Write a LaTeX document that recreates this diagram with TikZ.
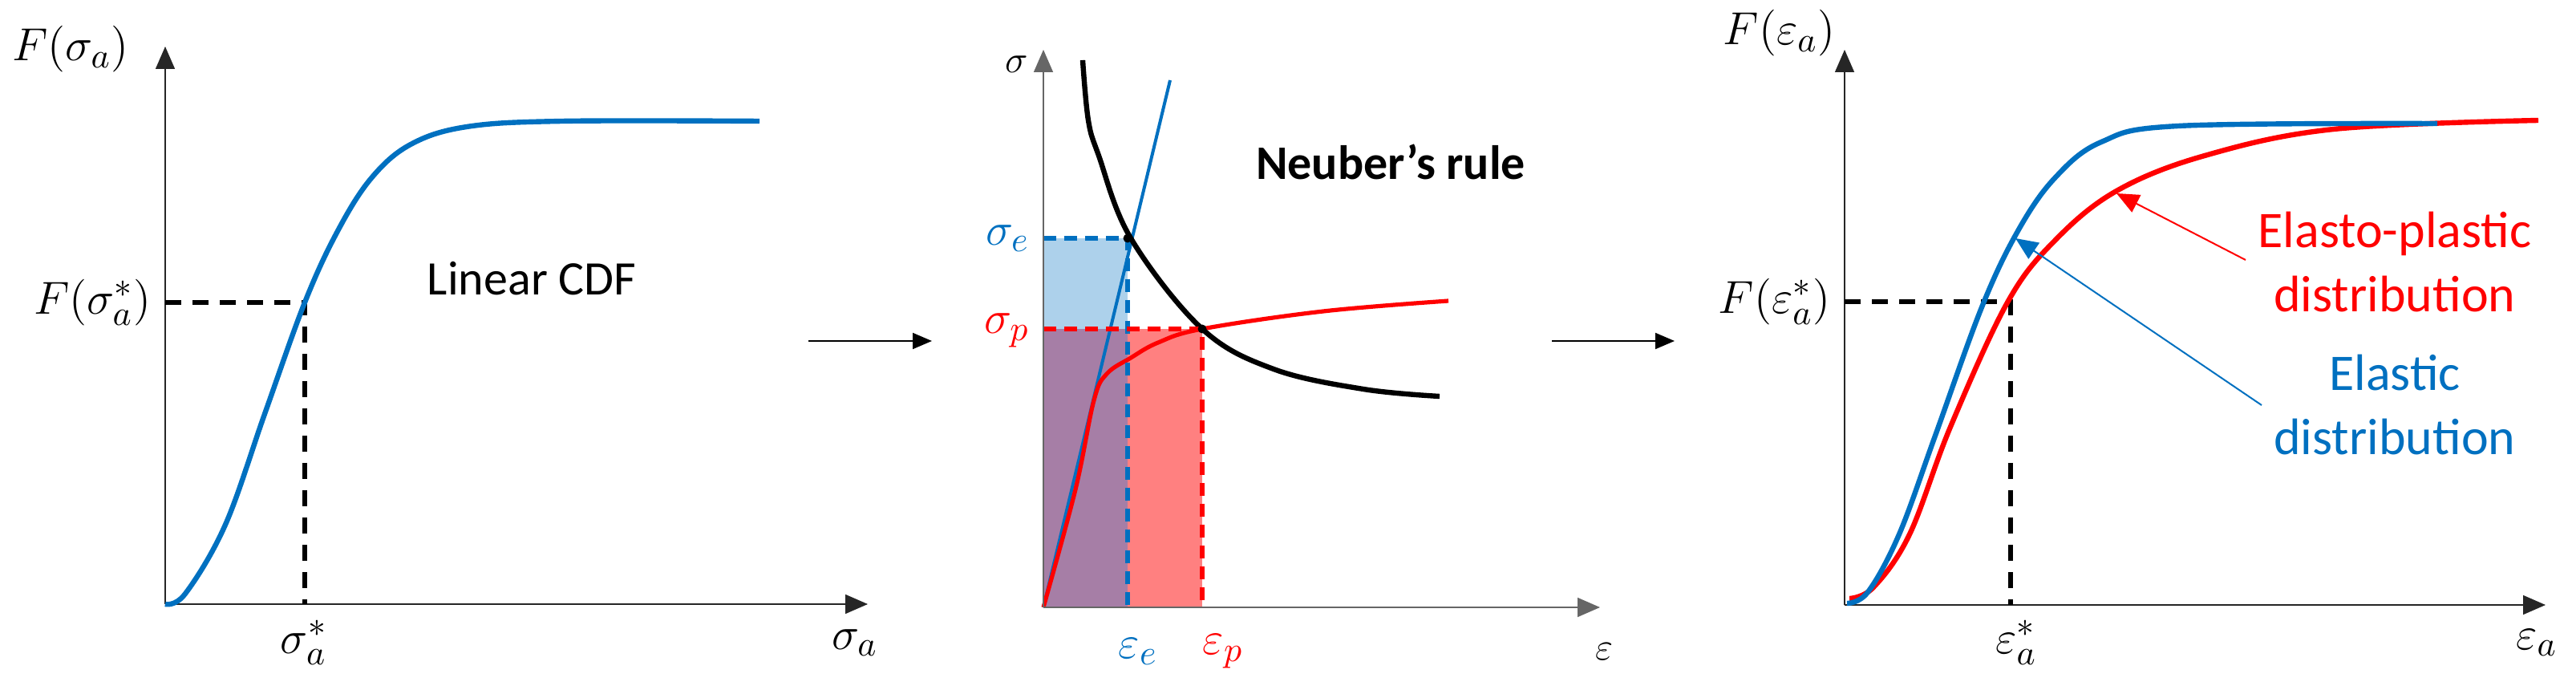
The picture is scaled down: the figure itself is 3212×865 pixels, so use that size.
\documentclass[tikz,border=0pt]{standalone}
\usepackage{fontspec}
\setmainfont{Carlito}
\usetikzlibrary{arrows.meta}
\definecolor{cblue}{RGB}{0,112,192}
\definecolor{cred}{RGB}{255,0,0}
\definecolor{caxis}{RGB}{38,38,38}
\tikzset{every picture/.style={line width=0.75pt}}
\tikzset{
  axis/.style={draw=caxis,line width=0.4pt,-{Triangle[length=7pt,width=6pt]}},
  guide/.style={black,line width=1.4pt,dash pattern=on 5pt off 3.5pt},
  cdf/.style={line width=1.6pt},
  lbl/.style={font=\fontsize{15}{18}\selectfont,inner sep=0pt},
  txt/.style={font=\fontsize{15}{18}\selectfont,align=center,inner sep=0pt},
  flow/.style={line width=0.5pt,-{Triangle[length=6pt,width=5pt]}}
}
\begin{document}
\begin{tikzpicture}[x=0.25pt,y=0.25pt,yscale=-1]
\useasboundingbox (0,0) rectangle (3212,865);

% left panel
\coordinate (lo) at (206,753);
\draw [axis] (lo) -- (206,58) ;
\draw [axis] (lo) -- (1082,753) ;
\draw [guide] (206,377) -- (380,377) -- (380,753) ;
\draw [cblue,cdf] plot [smooth,tension=0.6] coordinates {(206,753) (231,740) (281,654) (330,516) (380,377) (421,288) (463,222) (512,180) (582,158) (701,151) (947,151)} ;
\node [lbl] (lfy) at (88,61) {$F(\sigma_a)$};
\node [lbl,anchor=east] (lfs) at (190,377) {$F(\sigma_a^*)$};
\node [lbl] (lsx) at (379,801) {$\sigma_a^*$};
\node [lbl] (lx) at (1066,801) {$\sigma_a$};
\node [txt] (lin) at (663,347) {Linear CDF};

% first step
\coordinate (s1a) at (1008,425);
\coordinate (s1b) at (1162,425);
\draw [flow] (s1a) -- (s1b) ;

% middle panel
\coordinate (mo) at (1301,757);
\coordinate (pe) at (1406,297);
\coordinate (pp) at (1499,410);
\fill [cblue!32] (mo) rectangle (pe) ;
\fill [cred!50] (mo) rectangle (pp) ;
\fill [violet!45!gray!70] (mo) rectangle (1406,410) ;
\draw [cblue,line width=1pt] (mo) -- (1459,100) ;
\draw [cred,line width=1.3pt] plot [smooth,tension=0.6] coordinates {(1301,757) (1341,610) (1364,499) (1380,466) (1410,446) (1444,427) (1499,410) (1650,388) (1806,375)} ;
\draw [black,line width=1.6pt] plot [smooth,tension=0.6] coordinates {(1350,75) (1357,150) (1370,194) (1410,297) (1499,410) (1588,460) (1700,485) (1795,494)} ;
\draw [cblue,line width=1.3pt,dash pattern=on 4pt off 2.5pt] (1301,297) -- (pe) -- (1406,757) ;
\draw [cred,line width=1.3pt,dash pattern=on 4pt off 2.5pt] (1301,410) -- (pp) -- (1499,757) ;
\draw [axis,draw=gray!80!black] (mo) -- (1301,62) ;
\draw [axis,draw=gray!80!black] (mo) -- (1995,757) ;
\fill (pe) circle (5.5) ;
\fill (pp) circle (5.5) ;
\node [lbl,font=\fontsize{13}{16}\selectfont] (ms) at (1268,80) {$\sigma$};
\node [lbl,cblue,anchor=east] (mse) at (1285,297) {$\sigma_e$};
\node [lbl,cred,anchor=east] (msp) at (1285,412) {$\sigma_p$};
\node [lbl,cblue] (mee) at (1419,812) {$\varepsilon_e$};
\node [lbl,cred] (mep) at (1525,812) {$\varepsilon_p$};
\node [lbl,font=\fontsize{13}{16}\selectfont] (mx) at (2000,812) {$\varepsilon$};
\node [txt,font=\fontsize{15}{18}\selectfont\bfseries] (neu) at (1734,202) {Neuber’s rule};

% second step
\coordinate (s2a) at (1935,425);
\coordinate (s2b) at (2088,425);
\draw [flow] (s2a) -- (s2b) ;

% right panel
\coordinate (ro) at (2300,754);
\draw [axis] (ro) -- (2300,62) ;
\draw [axis] (ro) -- (3174,754) ;
\draw [guide] (2300,376) -- (2507,376) -- (2507,754) ;
\draw [cred,cdf] plot [smooth,tension=0.6] coordinates {(2306,746) (2336,732) (2381,666) (2432,532) (2503,377) (2562,300) (2639,238) (2749,194) (2910,161) (3165,150)} ;
\draw [cblue,cdf] plot [smooth,tension=0.6] coordinates {(2303,752) (2329,738) (2368,666) (2413,543) (2471,383) (2516,288) (2562,222) (2620,177) (2716,157) (3039,154)} ;
\coordinate (rtip) at (2639,241);
\coordinate (btip) at (2513,297);
\coordinate (rtail) at (2800,324);
\coordinate (btail) at (2820,505);
\draw [cred,line width=0.5pt,-{Triangle[length=7pt,width=6pt]}] (rtail) -- (rtip) ;
\draw [cblue,line width=0.5pt,-{Triangle[length=7pt,width=6pt]}] (btail) -- (btip) ;
\node [lbl,anchor=east] (rfy) at (2290,41) {$F(\varepsilon_a)$};
\node [lbl,anchor=east] (rfs) at (2284,376) {$F(\varepsilon_a^*)$};
\node [lbl] (resx) at (2514,801) {$\varepsilon_a^*$};
\node [lbl] (rx) at (3163,801) {$\varepsilon_a$};
\node [txt,cred,font=\fontsize{16}{20}\selectfont] (ep) at (2986,327) {Elasto-plastic\\distribution};
\node [txt,cblue,font=\fontsize{16}{20}\selectfont] (el) at (2986,505) {Elastic\\distribution};
\end{tikzpicture}
\end{document}
